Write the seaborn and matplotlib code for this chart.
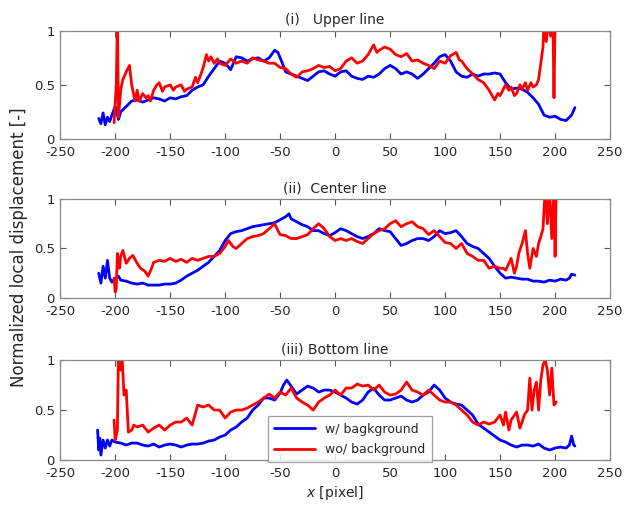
import numpy as np
import pandas as pd
import matplotlib
matplotlib.use("Agg")
import matplotlib.pyplot as plt
import seaborn as sns

# ---------------- data ----------------
p1_blue_x = [-215,-213,-211,-209,-207,-205,-203,-200,-197,-195,-190,-185,-180,-175,-170,-165,-160,-155,-150,-145,-140,-135,-130,-125,-120,-115,-110,-105,-100,-95,-90,-85,-80,-75,-70,-65,-60,-55,-52,-48,-45,-40,-35,-30,-25,-20,-15,-10,-5,0,5,10,15,20,25,30,35,40,45,50,55,60,65,70,75,80,85,90,95,100,105,110,115,120,125,130,135,140,145,150,155,160,165,170,175,180,185,190,195,200,205,210,213,215,218]
p1_blue_y = [0.19,0.14,0.24,0.13,0.2,0.16,0.22,0.3,0.18,0.25,0.3,0.35,0.36,0.34,0.36,0.38,0.37,0.35,0.38,0.37,0.39,0.4,0.45,0.48,0.5,0.58,0.65,0.72,0.7,0.64,0.76,0.75,0.72,0.74,0.75,0.72,0.75,0.82,0.8,0.7,0.62,0.6,0.58,0.56,0.54,0.58,0.62,0.63,0.6,0.58,0.62,0.63,0.58,0.56,0.55,0.58,0.57,0.6,0.65,0.68,0.65,0.6,0.62,0.6,0.56,0.6,0.65,0.7,0.76,0.78,0.72,0.62,0.58,0.57,0.6,0.58,0.6,0.6,0.61,0.6,0.52,0.46,0.47,0.46,0.43,0.38,0.32,0.22,0.2,0.21,0.18,0.17,0.2,0.22,0.29]

p1_red_x = [-201,-199,-198,-197,-195,-193,-190,-187,-185,-182,-180,-178,-175,-172,-170,-168,-165,-162,-160,-157,-155,-150,-147,-145,-140,-137,-135,-130,-127,-125,-122,-120,-117,-115,-113,-110,-107,-105,-100,-95,-90,-85,-80,-75,-70,-65,-60,-55,-50,-45,-40,-35,-30,-25,-20,-15,-10,-5,0,5,10,15,20,25,30,35,38,40,45,50,55,60,65,70,75,80,85,90,95,100,105,110,113,115,120,125,130,135,140,145,148,150,155,158,160,163,165,168,170,173,175,178,180,183,185,187,189,190,192,194,196,198,199,200,201]
p1_red_y = [0.15,0.5,1.1,0.2,0.45,0.55,0.62,0.68,0.5,0.35,0.45,0.35,0.42,0.38,0.4,0.35,0.45,0.5,0.52,0.44,0.48,0.5,0.45,0.48,0.5,0.44,0.46,0.48,0.57,0.52,0.6,0.66,0.78,0.72,0.76,0.7,0.74,0.7,0.68,0.74,0.7,0.72,0.7,0.75,0.73,0.72,0.7,0.7,0.66,0.65,0.6,0.57,0.62,0.63,0.65,0.68,0.66,0.67,0.63,0.65,0.72,0.75,0.7,0.72,0.78,0.87,0.8,0.82,0.85,0.83,0.78,0.76,0.79,0.72,0.73,0.7,0.68,0.65,0.72,0.7,0.77,0.8,0.73,0.72,0.65,0.6,0.55,0.52,0.45,0.36,0.42,0.4,0.5,0.45,0.48,0.4,0.42,0.5,0.46,0.52,0.45,0.52,0.48,0.5,0.55,0.7,0.85,1.1,0.9,1.1,0.95,1.1,0.38,1.1,1.1]

p2_blue_x = [-215,-213,-211,-209,-207,-205,-203,-200,-197,-195,-190,-185,-180,-175,-170,-165,-160,-155,-150,-145,-140,-135,-130,-125,-120,-115,-110,-105,-100,-95,-90,-85,-80,-75,-70,-65,-60,-55,-50,-45,-42,-40,-35,-30,-25,-20,-15,-10,-5,0,5,10,15,20,25,30,35,40,45,50,55,60,65,70,75,80,85,90,95,100,105,110,115,120,125,130,135,140,145,150,155,160,165,170,175,180,185,190,195,200,205,210,213,215,218]
p2_blue_y = [0.25,0.15,0.32,0.2,0.38,0.2,0.16,0.2,0.22,0.18,0.17,0.15,0.14,0.15,0.13,0.13,0.13,0.14,0.14,0.15,0.18,0.22,0.25,0.28,0.32,0.36,0.42,0.48,0.58,0.65,0.67,0.68,0.7,0.72,0.73,0.74,0.75,0.76,0.79,0.82,0.85,0.8,0.77,0.74,0.72,0.68,0.68,0.65,0.63,0.66,0.7,0.68,0.65,0.62,0.6,0.62,0.65,0.7,0.68,0.67,0.6,0.53,0.55,0.58,0.6,0.6,0.58,0.62,0.68,0.65,0.66,0.68,0.62,0.55,0.52,0.5,0.45,0.4,0.32,0.25,0.2,0.21,0.2,0.19,0.19,0.17,0.17,0.16,0.18,0.17,0.19,0.18,0.2,0.24,0.23]

p2_red_x = [-201,-200,-199,-198,-196,-195,-193,-190,-187,-184,-180,-177,-173,-170,-167,-165,-160,-155,-150,-145,-140,-135,-130,-125,-120,-115,-110,-105,-100,-97,-93,-90,-85,-80,-75,-70,-65,-60,-55,-52,-50,-45,-40,-35,-30,-25,-20,-15,-10,-5,0,5,10,15,20,25,30,35,40,45,50,55,60,65,70,75,80,85,90,95,100,105,110,115,120,125,130,135,140,145,150,153,155,158,160,163,165,167,170,173,175,177,180,183,185,187,189,191,193,195,197,199,200,201]
p2_red_y = [0.2,0.06,0.1,0.45,0.3,0.42,0.48,0.35,0.4,0.43,0.35,0.3,0.27,0.22,0.3,0.36,0.38,0.37,0.4,0.37,0.39,0.36,0.4,0.38,0.4,0.42,0.42,0.45,0.52,0.58,0.52,0.5,0.55,0.6,0.62,0.63,0.65,0.7,0.75,0.68,0.64,0.63,0.6,0.6,0.62,0.64,0.7,0.75,0.7,0.62,0.58,0.6,0.58,0.6,0.57,0.55,0.6,0.65,0.68,0.7,0.75,0.78,0.72,0.75,0.77,0.72,0.7,0.64,0.68,0.62,0.56,0.55,0.5,0.55,0.45,0.42,0.38,0.38,0.3,0.32,0.3,0.3,0.28,0.35,0.4,0.25,0.32,0.45,0.55,0.68,0.45,0.3,0.5,0.42,0.55,0.62,0.7,1.1,0.75,1.1,0.6,1.1,0.42,1.1]

p3_blue_x = [-216,-215,-214,-213,-211,-209,-207,-205,-203,-200,-195,-190,-185,-180,-175,-170,-165,-160,-155,-150,-145,-140,-135,-130,-125,-120,-115,-110,-105,-100,-95,-90,-85,-80,-75,-70,-65,-60,-55,-50,-47,-44,-40,-35,-30,-25,-20,-15,-10,-5,0,5,10,15,20,25,30,35,40,45,50,55,60,65,70,75,80,85,90,95,100,105,110,115,120,125,130,135,140,145,150,155,160,165,170,175,180,185,190,195,200,205,210,213,215,217,218]
p3_blue_y = [0.3,0.1,0.22,0.05,0.2,0.12,0.2,0.14,0.2,0.18,0.17,0.15,0.17,0.17,0.15,0.14,0.16,0.13,0.15,0.16,0.15,0.13,0.15,0.16,0.16,0.17,0.19,0.2,0.23,0.25,0.3,0.33,0.38,0.42,0.5,0.55,0.62,0.62,0.6,0.67,0.75,0.8,0.74,0.66,0.7,0.74,0.72,0.68,0.7,0.7,0.68,0.65,0.62,0.58,0.56,0.6,0.68,0.72,0.65,0.6,0.6,0.62,0.64,0.6,0.58,0.6,0.65,0.68,0.75,0.7,0.62,0.58,0.56,0.55,0.5,0.45,0.36,0.32,0.28,0.24,0.2,0.18,0.15,0.13,0.15,0.15,0.14,0.16,0.12,0.1,0.12,0.13,0.12,0.15,0.24,0.15,0.14]

p3_red_x = [-201,-200,-198,-197,-195,-194,-192,-190,-188,-185,-183,-180,-175,-170,-165,-160,-155,-150,-145,-140,-135,-130,-125,-120,-115,-110,-105,-100,-95,-90,-85,-80,-75,-70,-65,-60,-55,-50,-45,-40,-35,-30,-25,-20,-15,-10,-5,0,5,10,15,20,25,30,35,40,45,50,55,60,65,70,75,80,85,90,95,100,105,110,115,120,125,130,135,140,145,150,153,155,158,160,165,168,170,172,175,177,179,181,183,185,187,189,191,193,195,197,199,201]
p3_red_y = [0.4,0.2,0.3,1.1,0.9,1.1,0.65,0.7,0.28,0.3,0.35,0.33,0.35,0.28,0.32,0.35,0.3,0.35,0.38,0.38,0.42,0.35,0.55,0.53,0.55,0.5,0.5,0.42,0.48,0.5,0.5,0.52,0.55,0.58,0.62,0.66,0.62,0.68,0.65,0.72,0.62,0.58,0.55,0.5,0.58,0.62,0.65,0.7,0.65,0.72,0.72,0.76,0.74,0.75,0.7,0.75,0.68,0.65,0.66,0.7,0.78,0.7,0.68,0.65,0.7,0.65,0.6,0.58,0.58,0.55,0.5,0.45,0.38,0.35,0.38,0.36,0.38,0.45,0.35,0.48,0.3,0.4,0.48,0.32,0.38,0.45,0.5,0.82,0.5,0.7,0.78,0.5,0.8,0.95,1.0,0.9,0.65,0.92,0.55,0.58]

titles = ["(i)   Upper line", "(ii)  Center line", "(iii) Bottom line"]
labels = ["w/ bagkground", "wo/ background"]
x_ticks = [-250, -200, -150, -100, -50, 0, 50, 100, 150, 200, 250]
y_ticks = [0, 0.5, 1]
y_tick_labels = ["0", "0.5", "1"]

panels = [
    (p1_blue_x, p1_blue_y, p1_red_x, p1_red_y),
    (p2_blue_x, p2_blue_y, p2_red_x, p2_red_y),
    (p3_blue_x, p3_blue_y, p3_red_x, p3_red_y),
]

# ---------------- plotting ----------------
sns.set_theme(style="white")
plt.rcParams['font.family'] = ['DejaVu Sans']

fig = plt.figure(figsize=(6.27, 5.05), dpi=100)
positions = [
    (0.096, 0.725, 0.877, 0.214),
    (0.096, 0.410, 0.877, 0.196),
    (0.096, 0.089, 0.877, 0.198),
]
palette = {labels[0]: "#0000ff", labels[1]: "#ff0000"}

for i, (pos, (bx, by, rx, ry)) in enumerate(zip(positions, panels)):
    ax = fig.add_axes(pos)
    df = pd.concat([
        pd.DataFrame({"x": bx, "y": by, "series": labels[0]}),
        pd.DataFrame({"x": rx, "y": ry, "series": labels[1]}),
    ], ignore_index=True)
    sns.lineplot(data=df, x="x", y="y", hue="series", palette=palette,
                 ax=ax, linewidth=2.0, legend=(i == 2), sort=True,
                 estimator=None)
    ax.set_xlim(-250, 250)
    ax.set_ylim(0, 1)
    ax.set_xticks(x_ticks)
    ax.set_xticklabels([str(t) for t in x_ticks])
    ax.set_yticks(y_ticks)
    ax.set_yticklabels(y_tick_labels)
    ax.tick_params(direction="in", length=4, width=0.8, color="#555555",
                   top=True, right=True, bottom=True, left=True,
                   labelsize=9.5)
    ax.tick_params(axis="x", pad=5)
    ax.tick_params(axis="y", pad=4)
    for s in ax.spines.values():
        s.set_color("#888888")
        s.set_linewidth(0.9)
    ax.set_xlabel("")
    ax.set_ylabel("")
    ax.set_title(titles[i], fontsize=10, pad=5)
    if i == 2:
        ax.set_xlabel(r"$x$ [pixel]", fontsize=10, labelpad=3)
        leg = ax.legend(loc="upper left", bbox_to_anchor=(0.366, 0.50),
                        frameon=True, fancybox=False, fontsize=9,
                        handlelength=3.3, borderpad=0.5, labelspacing=0.6,
                        title=None)
        leg.get_frame().set_edgecolor("#888888")
        leg.get_frame().set_linewidth(0.9)

fig.text(0.03, 0.51, "Normalized local displacement [-]", rotation=90,
         va="center", ha="center", fontsize=12)

fig.savefig("out.png", dpi=100)
